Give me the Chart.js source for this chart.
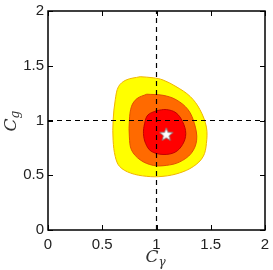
<!DOCTYPE html>
<html>
<head>
<meta charset="utf-8">
<script src="https://cdn.jsdelivr.net/npm/chart.js@4.4.1/dist/chart.umd.min.js"></script>
<style>
  html, body { margin: 0; padding: 0; background: #fff; }
  #wrap { width: 273px; height: 270px; }
</style>
</head>
<body>
<div id="wrap"><canvas id="c"></canvas></div>
<script>
// contour outlines (C_gamma, C_g)
const yellowX = [0.85, 0.72, 0.65, 0.62, 0.60, 0.60, 0.62, 0.66, 0.76, 0.91, 1.06, 1.21, 1.34, 1.43, 1.46, 1.46, 1.40, 1.31, 1.18, 1.06, 0.97, 0.85];
const yellowY = [1.40, 1.37, 1.31, 1.19, 1.00, 0.82, 0.67, 0.58, 0.52, 0.49, 0.49, 0.52, 0.58, 0.67, 0.79, 0.94, 1.10, 1.22, 1.31, 1.37, 1.39, 1.40];
const orangeX = [0.91, 0.82, 0.77, 0.75, 0.75, 0.77, 0.85, 0.97, 1.09, 1.21, 1.32, 1.37, 1.35, 1.29, 1.18, 1.06, 0.91];
const orangeY = [1.24, 1.20, 1.13, 1.00, 0.85, 0.73, 0.64, 0.59, 0.59, 0.62, 0.70, 0.82, 0.97, 1.10, 1.19, 1.23, 1.24];
const redX = [1.00, 0.92, 0.89, 0.88, 0.90, 0.95, 1.06, 1.17, 1.24, 1.27, 1.24, 1.18, 1.09, 1.00];
const redY = [1.09, 1.05, 0.97, 0.88, 0.79, 0.72, 0.69, 0.71, 0.78, 0.88, 0.99, 1.07, 1.10, 1.09];
const bestFit = [1.09, 0.87];
const refX = 1, refY = 1;
const tickVals = [0, 0.5, 1, 1.5, 2];

function pts(xs, ys) {
  return xs.map((x, i) => ({ x: x, y: ys[i] }));
}

// white filled star as point image
function starImage(r) {
  const s = Math.ceil(r * 2 + 4);
  const cv = document.createElement('canvas');
  cv.width = s; cv.height = s;
  const g = cv.getContext('2d');
  g.beginPath();
  for (let i = 0; i < 10; i++) {
    const rr = i % 2 ? r * 0.42 : r;
    const a = -Math.PI / 2 + i * Math.PI / 5;
    const px = s / 2 + rr * Math.cos(a), py = s / 2 + rr * Math.sin(a);
    if (i === 0) g.moveTo(px, py); else g.lineTo(px, py);
  }
  g.closePath();
  g.fillStyle = '#fff';
  g.fill();
  g.strokeStyle = '#777';
  g.lineWidth = 0.8;
  g.stroke();
  return cv;
}

// box + inward ticks on all four sides, and axis titles
const frame = {
  id: 'frame',
  afterDraw(chart) {
    const ctx = chart.ctx, a = chart.chartArea;
    const xs = chart.scales.x, ys = chart.scales.y;
    ctx.save();
    ctx.strokeStyle = '#000';
    ctx.lineWidth = 1.5;
    ctx.strokeRect(a.left, a.top, a.right - a.left, a.bottom - a.top);
    ctx.lineWidth = 1;
    const L = 5;
    ctx.beginPath();
    tickVals.forEach(v => {
      const px = Math.round(xs.getPixelForValue(v)) + 0.5;
      ctx.moveTo(px, a.bottom); ctx.lineTo(px, a.bottom - L);
      ctx.moveTo(px, a.top); ctx.lineTo(px, a.top + L);
      const py = Math.round(ys.getPixelForValue(v)) + 0.5;
      ctx.moveTo(a.left, py); ctx.lineTo(a.left + L, py);
      ctx.moveTo(a.right, py); ctx.lineTo(a.right - L, py);
    });
    ctx.stroke();

    ctx.fillStyle = '#333';
    ctx.textBaseline = 'alphabetic';
    // x title C_gamma
    const cx = (a.left + a.right) / 2;
    ctx.font = 'italic 17px "DejaVu Serif", serif';
    ctx.textAlign = 'right';
    ctx.fillText('C', cx + 2, 262);
    ctx.font = 'italic 12px "DejaVu Serif", serif';
    ctx.textAlign = 'left';
    ctx.fillText('γ', cx + 2, 266);
    // y title C_g (rotated)
    const cy = (a.top + a.bottom) / 2;
    ctx.translate(16, cy);
    ctx.rotate(-Math.PI / 2);
    ctx.font = 'italic 17px "DejaVu Serif", serif';
    ctx.textAlign = 'right';
    ctx.fillText('C', 2, 0);
    ctx.font = 'italic 12px "DejaVu Serif", serif';
    ctx.textAlign = 'left';
    ctx.fillText('g', 2, 3);
    ctx.restore();
  }
};

const contour = (label, xs, ys, fillC, lineC, order) => ({
  label: label,
  data: pts(xs, ys),
  showLine: true,
  fill: 'shape',
  backgroundColor: fillC,
  borderColor: lineC,
  borderWidth: 1,
  tension: 0.35,
  pointRadius: 0,
  order: order
});

new Chart(document.getElementById('c'), {
  type: 'scatter',
  data: {
    datasets: [
      {
        label: 'best fit',
        data: [{ x: bestFit[0], y: bestFit[1] }],
        pointStyle: starImage(7),
        pointRadius: 7,
        order: 0
      },
      {
        label: 'x ref',
        data: [{ x: refX, y: 0 }, { x: refX, y: 2 }],
        showLine: true,
        borderColor: '#000',
        borderWidth: 1.2,
        borderDash: [5, 4],
        pointRadius: 0,
        order: 1
      },
      {
        label: 'y ref',
        data: [{ x: 0, y: refY }, { x: 2, y: refY }],
        showLine: true,
        borderColor: '#000',
        borderWidth: 1.2,
        borderDash: [5, 4],
        pointRadius: 0,
        order: 1
      },
      contour('1 sigma', redX, redY, '#ff0000', '#c00000', 2),
      contour('2 sigma', orangeX, orangeY, '#ff6a00', '#e05000', 3),
      contour('3 sigma', yellowX, yellowY, '#ffff00', '#f0b400', 4)
    ]
  },
  options: {
    responsive: true,
    maintainAspectRatio: false,
    animation: false,
    layout: { padding: { left: 0, right: 7, top: 11, bottom: 0 } },
    plugins: { legend: { display: false }, tooltip: { enabled: false } },
    scales: {
      x: {
        type: 'linear', min: 0, max: 2,
        afterBuildTicks: s => { s.ticks = tickVals.map(v => ({ value: v })); },
        grid: { display: false, drawTicks: false, offset: false },
        border: { display: false },
        ticks: {
          color: '#222', padding: 6, maxRotation: 0,
          font: { family: '"Liberation Sans", Arial, sans-serif', size: 15 },
          callback: v => String(v)
        },
        afterFit: s => { s.height = 40; s.paddingLeft = 0; s.paddingRight = 0; }
      },
      y: {
        type: 'linear', min: 0, max: 2,
        afterBuildTicks: s => { s.ticks = tickVals.map(v => ({ value: v })); },
        grid: { display: false, drawTicks: false },
        border: { display: false },
        ticks: {
          color: '#222', padding: 4,
          font: { family: '"Liberation Sans", Arial, sans-serif', size: 15 },
          callback: v => String(v)
        },
        afterFit: s => { s.width = 48; s.paddingTop = 0; s.paddingBottom = 0; }
      }
    }
  },
  plugins: [frame]
});
</script>
</body>
</html>
